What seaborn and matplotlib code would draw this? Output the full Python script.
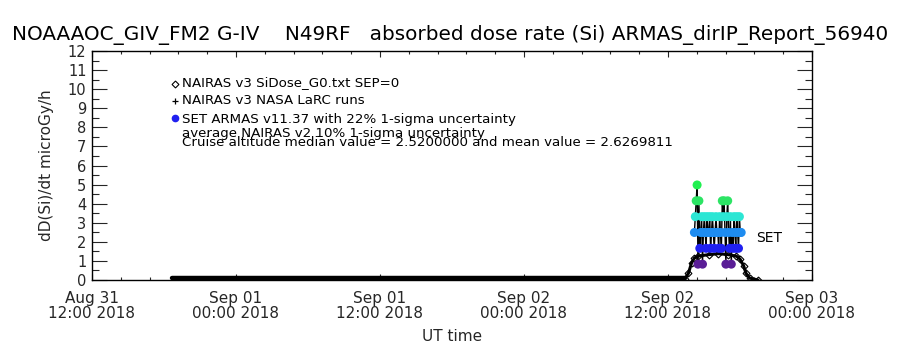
import numpy as np
import pandas as pd
import matplotlib
matplotlib.use("Agg")
import matplotlib.pyplot as plt
import matplotlib.dates as mdates
from matplotlib.ticker import MultipleLocator, AutoMinorLocator
import seaborn as sns

# ---- data -------------------------------------------------------------
# NAIRAS v3 model dose rate while the aircraft sits on the ground
ground_time = ["2018-08-31 18:40", "2018-09-02 13:24"]
ground_dose = [0.10, 0.10]

# NAIRAS v3 model dose rate along the flight track
flight_time = ["2018-09-02 13:24", "2018-09-02 13:42", "2018-09-02 13:58",
               "2018-09-02 14:12", "2018-09-02 14:30", "2018-09-02 15:24",
               "2018-09-02 16:12", "2018-09-02 17:00", "2018-09-02 17:42",
               "2018-09-02 18:00", "2018-09-02 18:18", "2018-09-02 18:30",
               "2018-09-02 18:48", "2018-09-02 19:30"]
flight_dose = [0.05, 0.35, 0.90, 1.15, 1.25, 1.33, 1.38, 1.33, 1.25,
               1.10, 0.75, 0.35, 0.10, 0.00]

# SET ARMAS v11.37 measurements (4.5-minute records from 14:12 UT)
armas_start = "2018-09-02 14:12"
armas_step = "270s"
armas_dose = [2.49, 3.32, 4.15, 4.98, 0.83, 4.15, 1.66, 2.49, 3.32, 0.83,
              2.49, 3.32, 2.49, 1.66, 3.32, 2.49, 2.49, 3.32, 1.66, 2.49,
              3.32, 2.49, 1.66, 2.49, 3.32, 2.49, 2.49, 1.66, 3.32, 2.49,
              1.66, 4.15, 3.32, 4.15, 2.49, 0.83, 3.32, 4.15, 2.49, 1.66,
              3.32, 0.83, 2.49, 1.66, 3.32, 2.49, 1.66, 3.32, 2.49, 1.66,
              3.32, 2.49, 2.49]

# colour for each ARMAS dose level
level_colors = {0.83: "#5A1E96", 1.66: "#2020F0", 2.49: "#1E8CF0",
                3.32: "#2CE6D4", 4.15: "#2CE464", 4.98: "#20F050"}

title = ("NOAAAOC_GIV_FM2 G-IV    N49RF   absorbed dose rate (Si) "
         "ARMAS_dirIP_Report_56940")
legend_lines = ["NAIRAS v3 SiDose_G0.txt SEP=0",
                "NAIRAS v3 NASA LaRC runs",
                "SET ARMAS v11.37 with 22% 1-sigma uncertainty",
                "average NAIRAS v2 10% 1-sigma uncertainty",
                "Cruise altitude median value = 2.5200000 and mean value = 2.6269811"]

x_start, x_end = "2018-08-31 12:00", "2018-09-03 00:00"
y_max = 12

# ---- frames -------------------------------------------------------------
ground = pd.DataFrame({"time": pd.to_datetime(ground_time), "dose": ground_dose})
flight = pd.DataFrame({"time": pd.to_datetime(flight_time), "dose": flight_dose})
armas = pd.DataFrame({
    "time": pd.date_range(armas_start, periods=len(armas_dose), freq=armas_step),
    "dose": armas_dose,
})

# ---- figure -------------------------------------------------------------
sns.set_style("white")
plt.rcParams["font.family"] = ["DejaVu Sans"]
plt.rcParams["text.color"] = "black"

W, H = 900, 350
fig = plt.figure(figsize=(W / 100, H / 100), dpi=100)
L, R, T, B = 92, 812, 51, 280
ax = fig.add_axes([L / W, 1 - B / H, (R - L) / W, (B - T) / H])

sns.lineplot(data=ground, x="time", y="dose", ax=ax, color="black",
             linewidth=3.2, zorder=2)
sns.lineplot(data=flight, x="time", y="dose", ax=ax, color="black",
             linewidth=2.2, marker="D", markersize=3.5, markerfacecolor="none",
             markeredgecolor="black", markeredgewidth=0.8, zorder=2)
sns.lineplot(data=armas, x="time", y="dose", ax=ax, color="black",
             linewidth=1.0, zorder=3)
sns.scatterplot(data=armas, x="time", y="dose", hue="dose",
                palette=level_colors, ax=ax, s=42, linewidth=0,
                legend=False, zorder=4)

ax.text(pd.Timestamp("2018-09-02 19:20"), 2.2, "SET", fontsize=10,
        ha="left", va="center")

# ---- axes ---------------------------------------------------------------
ax.set_xlim(pd.Timestamp(x_start), pd.Timestamp(x_end))
ax.set_ylim(0, y_max)
ax.xaxis.set_major_locator(mdates.HourLocator(byhour=[0, 12]))
ax.xaxis.set_major_formatter(mdates.DateFormatter("%b %d\n%H:%M %Y"))
ax.xaxis.set_minor_locator(AutoMinorLocator(5))
ax.yaxis.set_major_locator(MultipleLocator(1))
ax.yaxis.set_minor_locator(MultipleLocator(0.5))
ax.tick_params(axis="y", which="major", direction="in", length=10.5,
               width=0.8, left=True, right=True, labelsize=10.5, pad=4)
ax.tick_params(axis="y", which="minor", direction="in", length=5,
               width=0.8, left=True, right=True)
ax.tick_params(axis="x", which="major", direction="in", length=4,
               width=0.8, bottom=True, top=True, labelsize=11, pad=8)
ax.tick_params(axis="x", which="minor", direction="in", length=2.2,
               width=0.8, bottom=True, top=True)
for lab in ax.get_xticklabels():
    lab.set_linespacing(1.0)
for sp in ax.spines.values():
    sp.set_color("black")
    sp.set_linewidth(1.0)
ax.set_xlabel("UT time", fontsize=11, labelpad=6)
ax.set_ylabel("dD(Si)/dt microGy/h", fontsize=11, labelpad=10)

# ---- title and notes ------------------------------------------------------
fig.text(450 / W, 1 - 40 / H, title, ha="center", va="baseline", fontsize=14.4)

baselines = [86, 104.5, 123.5, 137.5, 146.5]
for txt, yb in zip(legend_lines, baselines):
    fig.text(182 / W, 1 - yb / H, txt, ha="left", va="baseline", fontsize=9.6)

# legend symbols
sym_ax = fig.add_axes([0, 0, 1, 1], facecolor="none")
sym_ax.set_xlim(0, W)
sym_ax.set_ylim(H, 0)
sym_ax.axis("off")
sym_ax.plot([174.5], [83.5], marker="D", markersize=3.5, markerfacecolor="none",
            markeredgecolor="black", markeredgewidth=0.8)
sym_ax.plot([174.5], [101], marker="+", markersize=5, color="black",
            markeredgewidth=0.9)
sym_ax.plot([174.5], [118], marker="o", markersize=4.5, color="#2020F0")

fig.savefig("out.png", dpi=100, facecolor="white")
